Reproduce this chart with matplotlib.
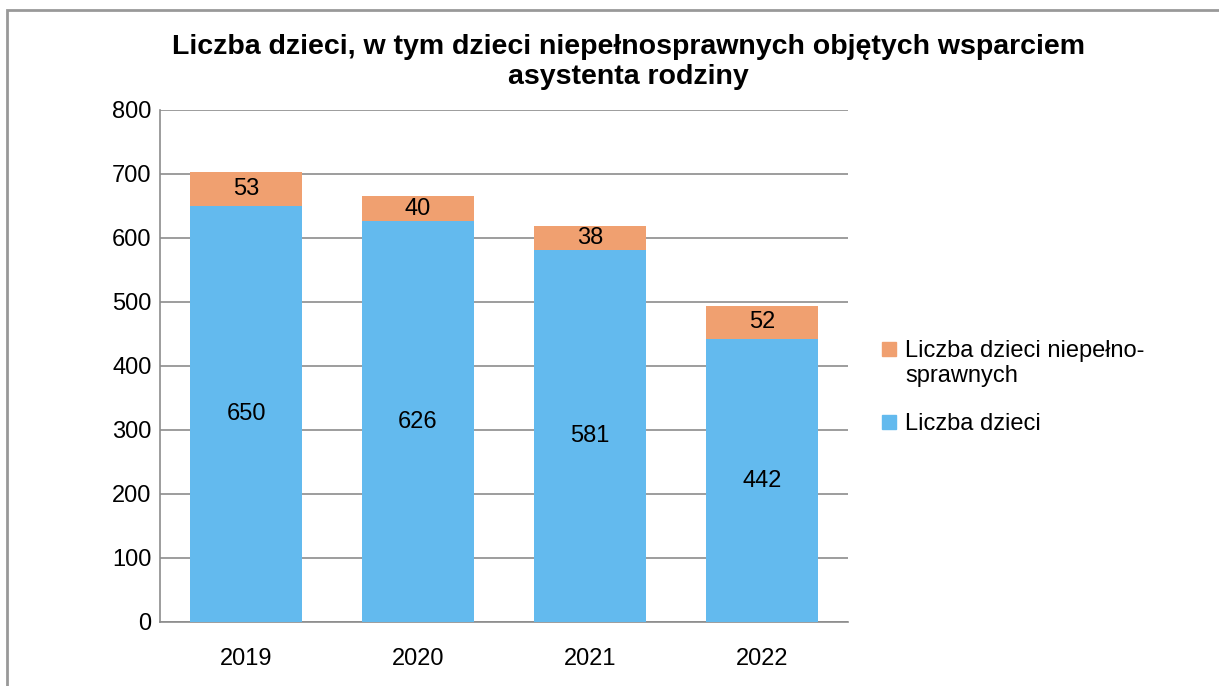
import matplotlib.pyplot as plt
from matplotlib.patches import Rectangle

plt.rcParams['font.family'] = ['Liberation Sans', 'DejaVu Sans']

years = ['2019', '2020', '2021', '2022']
children = [650, 626, 581, 442]
disabled = [53, 40, 38, 52]
legend_labels = ['Liczba dzieci niepełno-\nsprawnych', 'Liczba dzieci']

blue = '#63BAEE'
orange = '#F0A070'
grid_col = '#8C8C8C'

W, H = 1219, 686
fig = plt.figure(figsize=(W / 100, H / 100), dpi=100)
ax = fig.add_axes([160 / W, 1 - 622 / H, 688 / W, 512 / H])

x = range(len(years))
b1 = ax.bar(x, children, width=0.65, color=blue, zorder=3)
b2 = ax.bar(x, disabled, width=0.65, bottom=children, color=orange, zorder=3)
ax.bar_label(b1, label_type='center', fontsize=17)
ax.bar_label(b2, label_type='center', fontsize=17)

ax.set_xlim(-0.5, 3.5)
ax.set_ylim(0, 800)
ax.set_yticks(range(0, 801, 100))
ax.set_xticks(list(x))
ax.set_xticklabels(years)
ax.yaxis.grid(True, color=grid_col, linewidth=1.2, zorder=0)
for s in ['top', 'right']:
    ax.spines[s].set_visible(False)
for s in ['left', 'bottom']:
    ax.spines[s].set_color(grid_col)
    ax.spines[s].set_linewidth(1.2)
ax.tick_params(axis='y', length=0, labelsize=17, pad=6)
ax.tick_params(axis='x', length=0, labelsize=17, pad=19)

# legend, drawn by hand so the swatch sits on the first text line
for lab, col, ytop in zip(legend_labels, [orange, blue], [349, 422]):
    fig.patches.append(Rectangle((882 / W, 1 - (ytop + 7) / H), 14 / W, 14 / H,
                                 transform=fig.transFigure, color=col))
    fig.text(905 / W, 1 - (ytop - 9) / H, lab, ha='left', va='top',
             fontsize=17, linespacing=1.15)

fig.text(628 / W, 1 - 62 / H,
         'Liczba dzieci, w tym dzieci niepełnosprawnych objętych wsparciem\nasystenta rodziny',
         ha='center', va='center', fontsize=20.5, fontweight='bold', linespacing=1.15)

fig.patches.append(Rectangle((7 / W, -0.1), 1.2, 1.1 - 10 / H, transform=fig.transFigure,
                             fill=False, edgecolor='#999999', linewidth=2))

fig.savefig('out.png', dpi=100)
